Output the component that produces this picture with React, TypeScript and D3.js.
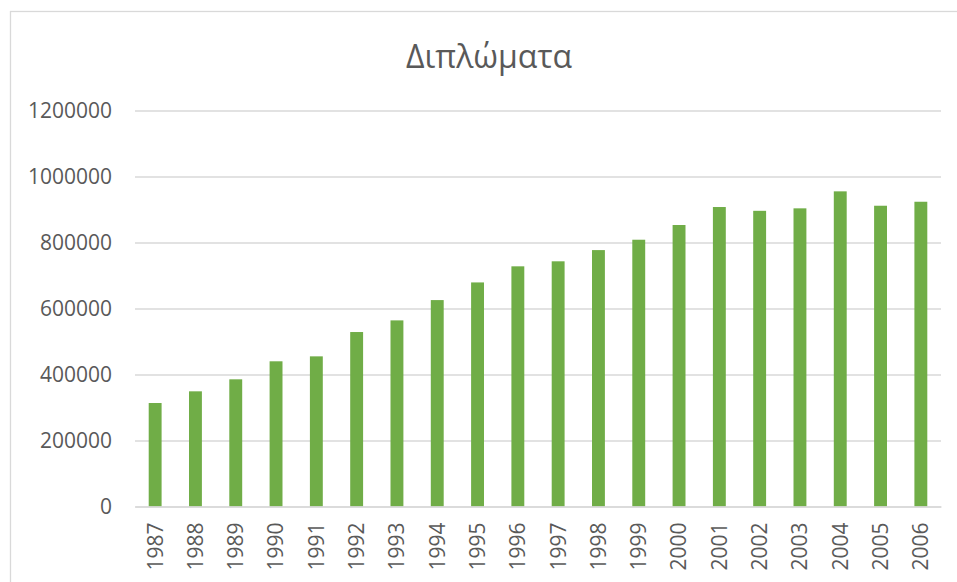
import * as d3 from 'd3';
import { useEffect, useRef } from 'react';

const years = ['1987', '1988', '1989', '1990', '1991', '1992', '1993', '1994', '1995', '1996',
  '1997', '1998', '1999', '2000', '2001', '2002', '2003', '2004', '2005', '2006'];
const diplomas = [313600, 349000, 385400, 440000, 455000, 528700, 564000, 625500, 679000, 727800,
  743000, 777000, 808400, 853000, 907500, 896000, 903500, 955000, 911400, 923500];
const yTicks = [0, 200000, 400000, 600000, 800000, 1000000, 1200000];
const title = 'Διπλώματα';

export default function App() {
  const ref = useRef<SVGSVGElement>(null);

  useEffect(() => {
    const svg = d3.select(ref.current);
    svg.selectAll('*').remove();

    const width = 957, height = 582;
    const left = 135, right = 941, top = 110.5, bottom = 506.5;
    const font = "'Open Sans', sans-serif";
    const textColor = '#595959';
    const gridColor = '#D9D9D9';

    // chart border (runs off the right and bottom of the picture)
    svg.append('rect')
      .attr('x', 10.5).attr('y', 11.5)
      .attr('width', 980).attr('height', 600)
      .attr('fill', '#fff')
      .attr('stroke', gridColor)
      .attr('stroke-width', 1.3);

    const x = d3.scaleBand().domain(years).range([left, right])
      .paddingInner(0.68).paddingOuter(0.34);
    const y = d3.scaleLinear().domain([0, 1200000]).range([bottom, top]);

    const yAxis = svg.append('g')
      .attr('transform', `translate(${left},0)`)
      .call(d3.axisLeft(y).tickValues(yTicks).tickSize(-(right - left)).tickPadding(23)
        .tickFormat(d => String(d)));
    yAxis.select('.domain').remove();
    yAxis.selectAll('.tick line').attr('stroke', gridColor).attr('stroke-width', 1.4);
    yAxis.selectAll('.tick text')
      .attr('fill', textColor)
      .style('font-family', font)
      .style('font-size', '21px');

    svg.append('g')
      .selectAll('rect')
      .data(diplomas)
      .join('rect')
      .attr('x', (_, i) => x(years[i])!)
      .attr('y', d => y(d))
      .attr('width', x.bandwidth())
      .attr('height', d => y(0) - y(d))
      .attr('fill', '#70AD47');

    const xAxis = svg.append('g')
      .attr('transform', `translate(0,${bottom})`)
      .call(d3.axisBottom(x).tickSize(0).tickPadding(0));
    xAxis.select('.domain').attr('stroke', gridColor).attr('stroke-width', 1.4);
    xAxis.selectAll('.tick text')
      .attr('fill', textColor)
      .style('font-family', font)
      .style('font-size', '21px')
      .attr('text-anchor', 'end')
      .attr('dy', '0.35em')
      .attr('transform', 'translate(0,16) rotate(-90)')
      .attr('x', 0)
      .attr('y', 0);

    svg.append('text')
      .attr('x', 489)
      .attr('y', 68)
      .attr('text-anchor', 'middle')
      .attr('fill', textColor)
      .style('font-family', font)
      .style('font-size', '32px')
      .text(title);

    svg.attr('width', width).attr('height', height);
  }, []);

  return (
    <svg ref={ref} width={957} height={582}
      style={{ position: 'absolute', left: 0, top: 0, background: '#fff' }} />
  );
}
